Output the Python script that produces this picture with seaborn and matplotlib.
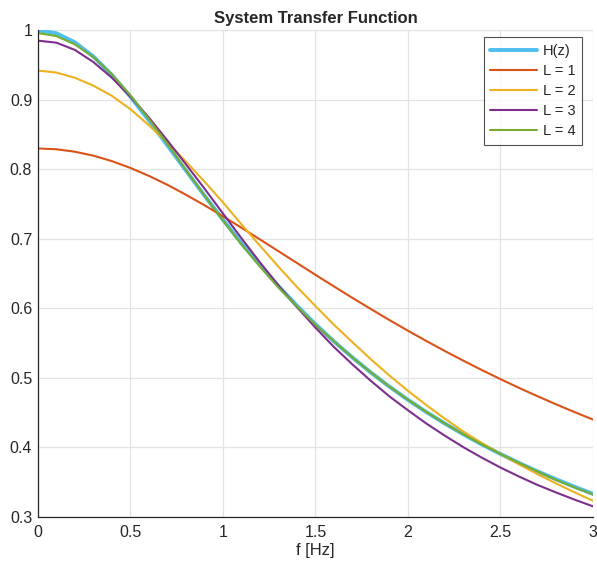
import numpy as np
import pandas as pd
import matplotlib
matplotlib.use("Agg")
import matplotlib.pyplot as plt
import seaborn as sns
from matplotlib.ticker import FuncFormatter

freq = [0.0, 0.1, 0.2, 0.3, 0.4, 0.5, 0.6, 0.7, 0.8, 0.9, 1.0,
        1.1, 1.2, 1.3, 1.4, 1.5, 1.6, 1.7, 1.8, 1.9, 2.0,
        2.1, 2.2, 2.3, 2.4, 2.5, 2.6, 2.7, 2.8, 2.9, 3.0]

h_z = [1.0, 0.9956, 0.9827, 0.9623, 0.9357, 0.9045, 0.8704, 0.8345, 0.7983, 0.7625, 0.7276,
       0.6940, 0.6623, 0.6321, 0.6039, 0.5774, 0.5525, 0.5294, 0.5077, 0.4874, 0.4685,
       0.4508, 0.4343, 0.4188, 0.4042, 0.3906, 0.3777, 0.3656, 0.3543, 0.3435, 0.3333]

l1 = [0.830, 0.8288, 0.8253, 0.8196, 0.8118, 0.8020, 0.7906, 0.7777, 0.7635, 0.7484, 0.7325,
      0.7160, 0.6992, 0.6823, 0.6653, 0.6483, 0.6316, 0.6151, 0.5990, 0.5832, 0.5679,
      0.5530, 0.5386, 0.5247, 0.5112, 0.4983, 0.4857, 0.4737, 0.4621, 0.4509, 0.4401]

l2 = [0.942, 0.9391, 0.9317, 0.9203, 0.9057, 0.8865, 0.8634, 0.8385, 0.8113, 0.7825, 0.7526,
      0.7210, 0.6903, 0.6601, 0.6309, 0.6034, 0.5765, 0.5514, 0.5267, 0.5034, 0.4815,
      0.4608, 0.4413, 0.4228, 0.4062, 0.3906, 0.3757, 0.3616, 0.3483, 0.3355, 0.3233]

l3 = [0.985, 0.9821, 0.9717, 0.9543, 0.9317, 0.9045, 0.8744, 0.8415, 0.8073, 0.7725, 0.7366,
      0.7010, 0.6663, 0.6331, 0.6019, 0.5724, 0.5445, 0.5194, 0.4957, 0.4734, 0.4535,
      0.4343, 0.4168, 0.4003, 0.3852, 0.3711, 0.3582, 0.3461, 0.3353, 0.3250, 0.3153]

l4 = [0.996, 0.9916, 0.9797, 0.9613, 0.9367, 0.9065, 0.8724, 0.8365, 0.7993, 0.7625, 0.7266,
      0.6920, 0.6603, 0.6301, 0.6029, 0.5764, 0.5525, 0.5294, 0.5077, 0.4874, 0.4685,
      0.4508, 0.4343, 0.4188, 0.4042, 0.3906, 0.3777, 0.3656, 0.3533, 0.3425, 0.3323]

series_names = ["H(z)", "L = 1", "L = 2", "L = 3", "L = 4"]
series_values = [h_z, l1, l2, l3, l4]
colors = ["#4DBEEE", "#D95319", "#EDB120", "#7E2F8E", "#77AC30"]
widths = [2.8, 1.5, 1.5, 1.5, 1.5]

sns.set_style("white")
plt.rcParams["font.family"] = ["Liberation Sans", "DejaVu Sans"]

fig = plt.figure(figsize=(5.97, 5.70), dpi=100)
ax = fig.add_axes([0.0633, 0.093, 0.930, 0.854])

for name, vals, c, w in zip(series_names, series_values, colors, widths):
    df = pd.DataFrame({"f": freq, "v": vals})
    sns.lineplot(data=df, x="f", y="v", ax=ax, color=c, linewidth=w, label=name)

ax.set_xlim(0, 3)
ax.set_ylim(0.3, 1.0)
ax.set_xticks([0, 0.5, 1, 1.5, 2, 2.5, 3])
ax.set_yticks([0.3, 0.4, 0.5, 0.6, 0.7, 0.8, 0.9, 1.0])
fmt = FuncFormatter(lambda v, p: "%g" % round(v, 3))
ax.xaxis.set_major_formatter(fmt)
ax.yaxis.set_major_formatter(fmt)
ax.grid(True, color="#e3e3e3", linewidth=0.9)
ax.set_axisbelow(True)
for s in ["top", "right"]:
    ax.spines[s].set_visible(False)
for s in ["left", "bottom"]:
    ax.spines[s].set_color("#262626")
    ax.spines[s].set_linewidth(0.9)
ax.tick_params(axis="both", direction="in", length=4, width=0.9, color="#262626",
               labelsize=11.5, labelcolor="#262626", pad=6)
ax.tick_params(axis="y", pad=4)

ax.set_xlabel("f [Hz]", fontsize=12, color="#262626", labelpad=2)
ax.set_ylabel("")
ax.set_title("System Transfer Function", fontsize=12, fontweight="bold", pad=5)

leg = ax.legend(loc="upper right", bbox_to_anchor=(0.9805, 0.9856), borderaxespad=0,
                fontsize=10.5, frameon=True, fancybox=False, handlelength=3.2,
                handletextpad=0.4, labelspacing=0.42, borderpad=0.45)
leg.get_frame().set_edgecolor("#262626")
leg.get_frame().set_linewidth(0.8)

fig.savefig("out.png", dpi=100)
